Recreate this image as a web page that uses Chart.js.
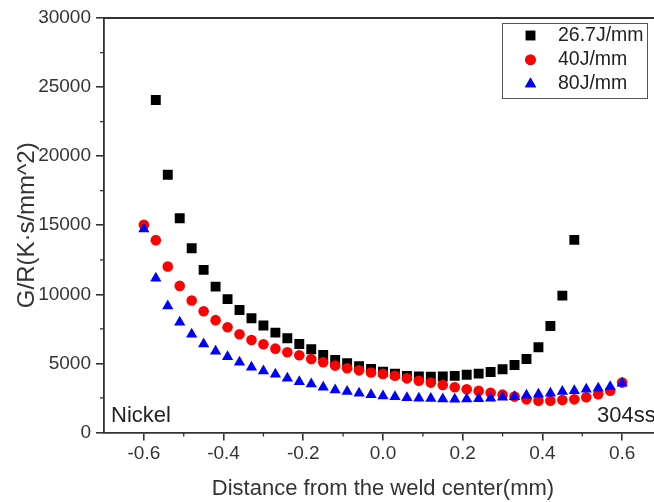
<!DOCTYPE html>
<html>
<head>
<meta charset="utf-8">
<script src="https://cdn.jsdelivr.net/npm/chart.js@4.4.0/dist/chart.umd.min.js"></script>
<style>
  html, body { margin: 0; padding: 0; background: #fff; overflow: hidden; }
  #wrap { width: 654px; height: 502px; overflow: hidden; }
</style>
</head>
<body>
<div id="wrap"><canvas id="chart" width="680" height="502"></canvas></div>
<script>
// x positions (mm)
const xFull = [-0.60, -0.57, -0.54, -0.51, -0.48, -0.45, -0.42, -0.39, -0.36, -0.33, -0.30,
  -0.27, -0.24, -0.21, -0.18, -0.15, -0.12, -0.09, -0.06, -0.03, 0.00, 0.03, 0.06, 0.09,
  0.12, 0.15, 0.18, 0.21, 0.24, 0.27, 0.30, 0.33, 0.36, 0.39, 0.42, 0.45, 0.48, 0.51, 0.54,
  0.57, 0.60];
const xBlack = [-0.57, -0.54, -0.51, -0.48, -0.45, -0.42, -0.39, -0.36, -0.33, -0.30, -0.27,
  -0.24, -0.21, -0.18, -0.15, -0.12, -0.09, -0.06, -0.03, 0.00, 0.03, 0.06, 0.09, 0.12,
  0.15, 0.18, 0.21, 0.24, 0.27, 0.30, 0.33, 0.36, 0.39, 0.42, 0.45, 0.48];

// G/R values
const gr267 = [24060, 18650, 15510, 13340, 11770, 10560, 9650, 8870, 8270, 7740, 7230,
  6820, 6410, 6030, 5610, 5250, 5010, 4800, 4600, 4400, 4250, 4100, 4050, 4030,
  4050, 4100, 4180, 4260, 4380, 4580, 4890, 5320, 6170, 7710, 9910, 13940];
const gr40 = [15030, 13920, 12010, 10610, 9550, 8780, 8130, 7620, 7110, 6700, 6390,
  6070, 5810, 5590, 5320, 5080, 4840, 4650, 4500, 4340, 4240, 4110, 3920, 3750,
  3610, 3440, 3270, 3130, 3010, 2880, 2740, 2600, 2400, 2300, 2300, 2350, 2400,
  2550, 2770, 3030, 3610];
const gr80 = [14720, 11170, 9160, 7980, 7110, 6410, 5880, 5490, 5080, 4720, 4450,
  4210, 3920, 3680, 3510, 3270, 3080, 2960, 2840, 2740, 2640, 2590, 2520, 2480,
  2460, 2430, 2400, 2420, 2450, 2480, 2550, 2590, 2690, 2770, 2840, 2960, 3030,
  3130, 3200, 3320, 3560];

const seriesNames = ['26.7J/mm', '40J/mm', '80J/mm'];
const xMajor = [-0.6, -0.4, -0.2, 0.0, 0.2, 0.4, 0.6];
const xMinor = [-0.5, -0.3, -0.1, 0.1, 0.3, 0.5];
const yMajor = [0, 5000, 10000, 15000, 20000, 25000, 30000];
const yMinor = [2500, 7500, 12500, 17500, 22500, 27500];

const FONT = '\'Liberation Sans\', Arial, Helvetica, sans-serif';
const AXIS = '#333';

const toPoints = (xs, ys) => xs.map((x, i) => ({ x: x, y: ys[i] }));

const framePlugin = {
  id: 'frame',
  afterDraw(chart) {
    const ctx = chart.ctx;
    const a = chart.chartArea;
    const xs = chart.scales.x;
    const ys = chart.scales.y;
    ctx.save();
    ctx.strokeStyle = AXIS;
    ctx.lineWidth = 1.8;
    ctx.beginPath();
    ctx.moveTo(a.left, a.top);
    ctx.lineTo(a.right, a.top);
    ctx.lineTo(a.right, a.bottom);
    ctx.stroke();

    // minor ticks
    ctx.lineWidth = 1.3;
    ctx.beginPath();
    xMinor.forEach(v => {
      const px = xs.getPixelForValue(v);
      ctx.moveTo(px, a.bottom);
      ctx.lineTo(px, a.bottom + 4);
    });
    yMinor.forEach(v => {
      const py = ys.getPixelForValue(v);
      ctx.moveTo(a.left, py);
      ctx.lineTo(a.left - 4, py);
    });
    ctx.stroke();

    // material labels
    ctx.fillStyle = '#222';
    ctx.font = '22px ' + FONT;
    ctx.textBaseline = 'middle';
    ctx.textAlign = 'left';
    ctx.fillText('Nickel', a.left + 7, a.bottom - 17);
    ctx.fillText('304ss', a.left + 493, a.bottom - 17);

    // legend
    const bx = a.right - 160, by = a.top + 5, bw = 145, bh = 75;
    ctx.fillStyle = '#fff';
    ctx.fillRect(bx, by, bw, bh);
    ctx.strokeStyle = '#555';
    ctx.lineWidth = 1;
    ctx.strokeRect(bx + 0.5, by + 0.5, bw, bh);
    ctx.font = '19.5px ' + FONT;
    [0, 1, 2].forEach((di, row) => {
      const ds = chart.data.datasets[di];
      const cy = by + 12.5 + row * 24.3;
      Chart.helpers.drawPoint(ctx, {
        pointStyle: ds.pointStyle,
        radius: ds.pointRadius,
        borderWidth: 0,
        rotation: 0,
      }, bx + 28.5, cy);
      ctx.fillStyle = ds.backgroundColor;
      ctx.fill();
      ctx.fillStyle = '#222';
      ctx.fillText(seriesNames[di], bx + 56, cy);
    });
    ctx.restore();
  },
};

new Chart(document.getElementById('chart').getContext('2d'), {
  type: 'scatter',
  data: {
    datasets: [
      {
        label: seriesNames[0],
        data: toPoints(xBlack, gr267),
        pointStyle: 'rect',
        pointRadius: 7,
        backgroundColor: '#000000',
        borderWidth: 0,
        order: 2,
      },
      {
        label: seriesNames[1],
        data: toPoints(xFull, gr40),
        pointStyle: 'circle',
        pointRadius: 5.3,
        backgroundColor: '#ff0000',
        borderWidth: 0,
        order: 1,
      },
      {
        label: seriesNames[2],
        data: toPoints(xFull, gr80),
        pointStyle: 'triangle',
        pointRadius: 6.5,
        backgroundColor: '#0000ff',
        borderWidth: 0,
        order: 0,
      },
    ],
  },
  options: {
    responsive: false,
    animation: false,
    events: [],
    layout: { padding: { top: 18, right: 18, left: 0, bottom: 0 } },
    plugins: {
      legend: { display: false },
      tooltip: { enabled: false },
    },
    scales: {
      x: {
        type: 'linear',
        min: -0.7,
        max: 0.7,
        afterBuildTicks: s => { s.ticks = xMajor.map(v => ({ value: v })); },
        afterFit: s => { s.height = 69.5; },
        ticks: {
          font: { family: FONT, size: 19 },
          color: AXIS,
          padding: 2,
          maxRotation: 0,
          callback: v => Number(v).toFixed(1),
        },
        grid: { drawOnChartArea: false, drawTicks: true, tickLength: 8, color: AXIS, lineWidth: 1.6 },
        border: { display: true, color: AXIS, width: 1.8 },
        title: {
          display: true,
          text: 'Distance from the weld center(mm)',
          font: { family: FONT, size: 22 },
          color: AXIS,
          padding: { top: 1, bottom: 0 },
        },
      },
      y: {
        type: 'linear',
        min: 0,
        max: 30000,
        afterBuildTicks: s => { s.ticks = yMajor.map(v => ({ value: v })); },
        afterFit: s => { s.width = 104; },
        ticks: {
          font: { family: FONT, size: 19 },
          color: AXIS,
          padding: 5,
          callback: v => String(v),
        },
        grid: { drawOnChartArea: false, drawTicks: true, tickLength: 8, color: AXIS, lineWidth: 1.6 },
        border: { display: true, color: AXIS, width: 1.8 },
        title: {
          display: true,
          text: 'G/R(K·s/mm^2)',
          font: { family: FONT, size: 24 },
          color: AXIS,
          padding: { top: 13, bottom: 0 },
        },
      },
    },
  },
  plugins: [framePlugin],
});
</script>
</body>
</html>
